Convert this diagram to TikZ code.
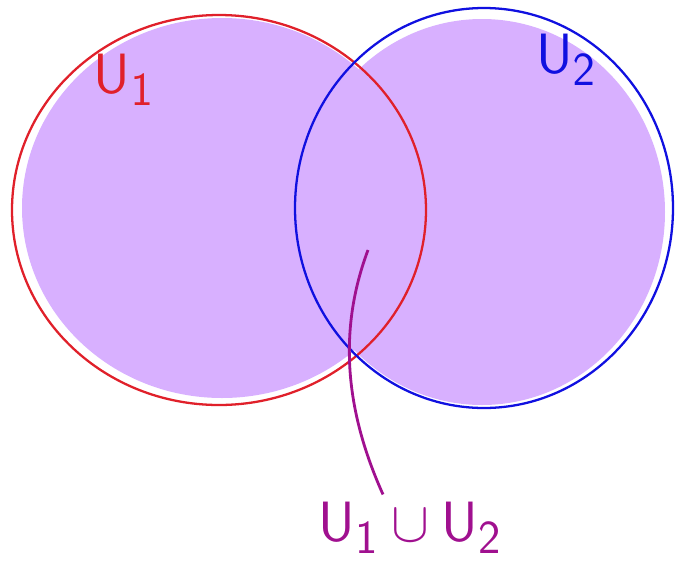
\documentclass[tikz,border=0pt]{standalone}
\usepackage{amsmath,amssymb}
\usepackage{tikz}
\usetikzlibrary{calc}

\definecolor{fillpurple}{HTML}{D8B0FF}
\definecolor{setred}{HTML}{E0202A}
\definecolor{setblue}{HTML}{1010E0}
\definecolor{unionpurple}{HTML}{A0108F}

\begin{document}
\begin{tikzpicture}[x=0.02cm,y=-0.02cm,
  setline/.style={line width=1.3pt},
  setlabel/.style={font=\Huge\sffamily,scale=1.3}]
\useasboundingbox (0,0) rectangle (677,569);
% shaded union
\fill[fillpurple] (222,208) ellipse [x radius=200, y radius=190];
\fill[fillpurple] (482,212) ellipse [x radius=183, y radius=193];
% the two sets
\draw[setline,setred] (219,210) ellipse [x radius=207, y radius=195];
\draw[setline,setblue] (484,208) ellipse [x radius=189, y radius=200];
\node[setlabel,text=setred] (u1) at (124,80) {$\mathsf{U}_{\mathsf{1}}$};
\node[setlabel,text=setblue] (u2) at (566,60) {$\mathsf{U}_{\mathsf{2}}$};
% union label with pointer
\node[setlabel,text=unionpurple] (u12) at (410,528) {$\mathsf{U}_{\mathsf{1}}\cup\mathsf{U}_{\mathsf{2}}$};
\coordinate (tip) at (368,250);
\draw[setline,unionpurple,line width=1.6pt] (tip) .. controls (338,330) and (345,410) .. ($(u12.north)+(-27,0)$);
\end{tikzpicture}
\end{document}
